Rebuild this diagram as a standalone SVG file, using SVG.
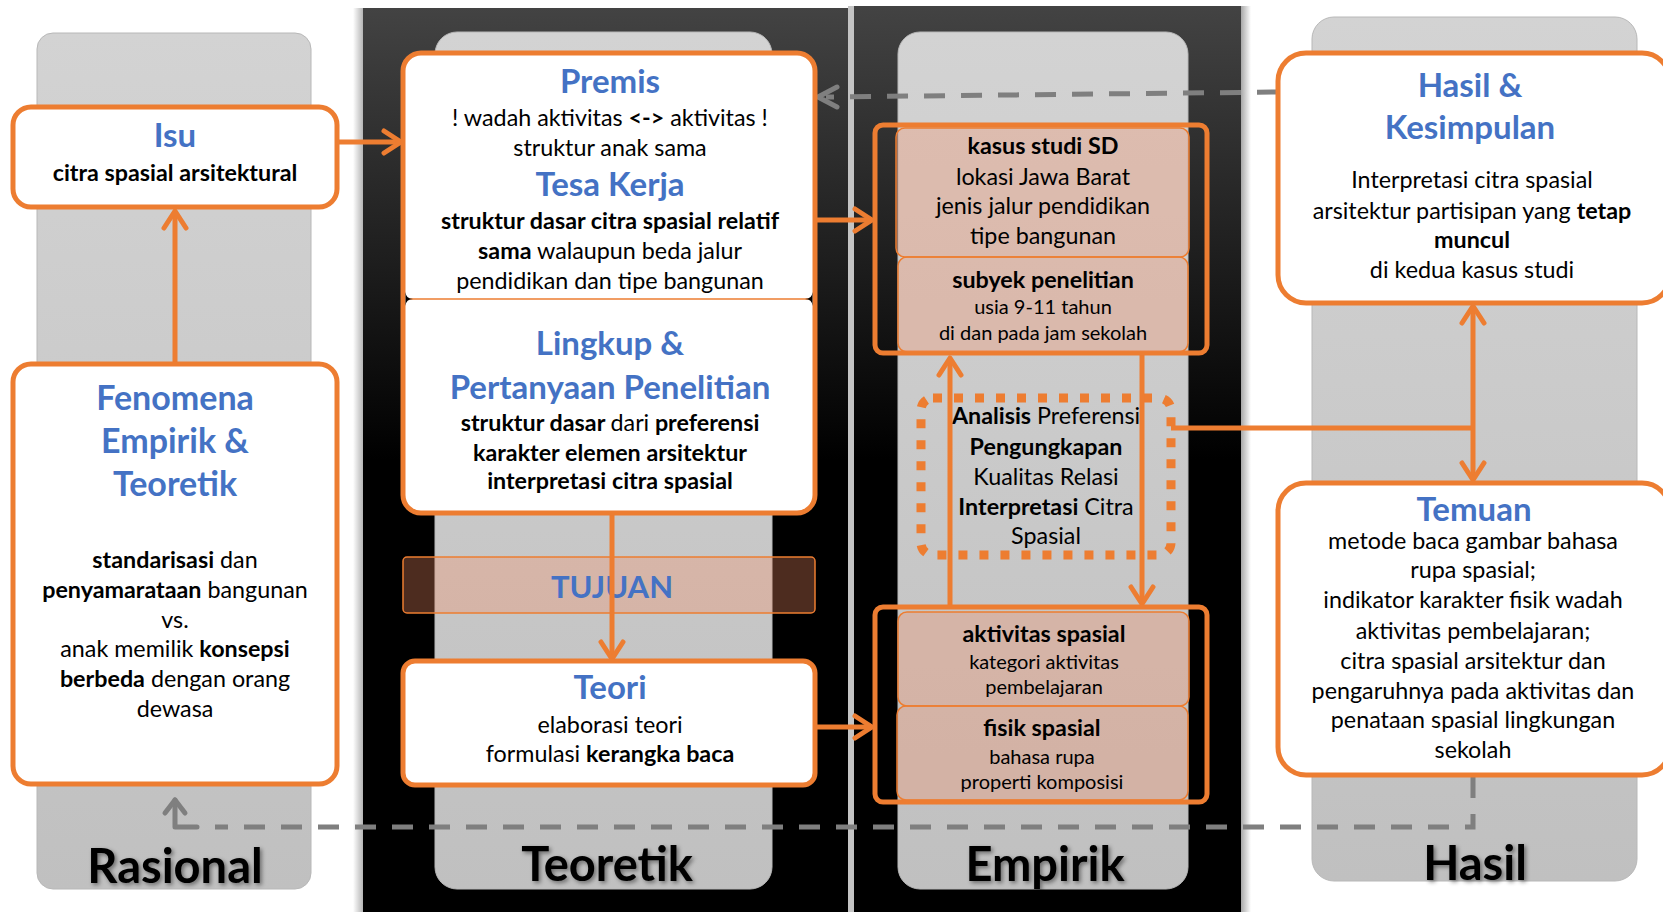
<svg xmlns="http://www.w3.org/2000/svg" width="1663" height="912" viewBox="0 0 1663 912">
<defs>
<linearGradient id="panelGrad" x1="0" y1="0" x2="0" y2="1">
<stop offset="0" stop-color="#434343"/>
<stop offset="0.5" stop-color="#000"/>
<stop offset="1" stop-color="#000"/>
</linearGradient>
<linearGradient id="colGrad" x1="0" y1="0" x2="0" y2="1">
<stop offset="0" stop-color="#d3d3d3"/>
<stop offset="1" stop-color="#c0c0c0"/>
</linearGradient>
<linearGradient id="shadowL" x1="0" y1="0" x2="1" y2="0">
<stop offset="0" stop-color="#fff"/>
<stop offset="1" stop-color="#b5b5b5"/>
</linearGradient>
<linearGradient id="shadowR" x1="0" y1="0" x2="1" y2="0">
<stop offset="0" stop-color="#a8a8a8"/>
<stop offset="1" stop-color="#fff"/>
</linearGradient>
<filter id="txtShadow" x="-10%" y="-20%" width="130%" height="160%">
<feDropShadow dx="2" dy="2" stdDeviation="2" flood-color="#000" flood-opacity="0.45"/>
</filter>
<marker id="ah" markerUnits="userSpaceOnUse" viewBox="-22 -14 26 28" refX="0" refY="0" markerWidth="26" markerHeight="28" orient="auto-start-reverse">
<path d="M-17,-11 L0,0 L-17,11" fill="none" stroke="#ED7D31" stroke-width="5" stroke-linecap="round" stroke-linejoin="round"/>
</marker>
<style>
.t{font-family:Lato,"Open Sans","Liberation Sans",sans-serif;text-anchor:middle;fill:#000}
.h{font-weight:700;fill:#4472C4;font-size:33px}
.b{font-size:23.3px}
.s{font-size:20px}
.bo{font-weight:700}
.lab{font-size:47px;font-weight:700;filter:url(#txtShadow)}
.box{fill:#fff;stroke:#ED7D31;stroke-width:5}
.col{fill:url(#colGrad);stroke:#b8b8b8;stroke-width:1}
.con{fill:none;stroke:#ED7D31;stroke-width:5}
.dash{fill:none;stroke:#7f7f7f;stroke-width:5;stroke-dasharray:21 16}
.gah{fill:none;stroke:#7f7f7f;stroke-width:5;stroke-linecap:round;stroke-linejoin:round}
.sal{fill:rgba(248,142,100,0.31);stroke:#ED7D31;stroke-width:1.5}
.grp{fill:none;stroke:#ED7D31;stroke-width:5}
.dot{fill:none;stroke:#ED7D31;stroke-width:9;stroke-dasharray:9 12}
</style>
</defs>
<rect width="1663" height="912" fill="#fff"/>
<g id="background">
<rect x="353" y="8" width="10" height="904" fill="url(#shadowL)"/>
<rect x="363" y="8" width="485" height="904" fill="url(#panelGrad)"/>
<rect x="848" y="6" width="6" height="906" fill="#c4c4c4"/>
<rect x="854" y="6" width="387" height="906" fill="url(#panelGrad)"/>
<rect x="1241" y="6" width="10" height="906" fill="url(#shadowR)"/>
<rect class="col" x="37" y="33" width="274" height="856" rx="16"/>
<rect class="col" x="435" y="32" width="337" height="857" rx="22"/>
<rect class="col" x="898" y="32" width="290" height="857" rx="22"/>
<rect class="col" x="1312" y="17" width="325" height="864" rx="22"/>
<text class="t lab" x="175" y="883">Rasional</text>
<text class="t lab" x="607" y="881">Teoretik</text>
<text class="t lab" x="1045" y="881">Empirik</text>
<text class="t lab" x="1475" y="880">Hasil</text>
</g>
<g id="tujuan">
<rect class="sal" x="403" y="557" width="412" height="56" rx="4"/>
<text class="t h" x="612" y="598" style="font-size:31px">TUJUAN</text>
</g>
<g id="analisis">
<rect class="dot" x="921" y="398" width="250" height="157" rx="12"/>
<text class="t b" x="1046" y="424"><tspan class="bo">Analisis</tspan> Preferensi</text>
<text class="t b bo" x="1046" y="455">Pengungkapan</text>
<text class="t b" x="1046" y="485">Kualitas Relasi</text>
<text class="t b" x="1046" y="515"><tspan class="bo">Interpretasi</tspan> Citra</text>
<text class="t b" x="1046" y="544">Spasial</text>
</g>
<g id="connectors">
<path class="con" d="M337,142 H401" marker-end="url(#ah)"/>
<path class="con" d="M175,363 V211" marker-end="url(#ah)"/>
<path class="con" d="M815,220 H872" marker-end="url(#ah)"/>
<path class="con" d="M612,513 V659" marker-end="url(#ah)"/>
<path class="con" d="M815,727 H872" marker-end="url(#ah)"/>
<path class="con" d="M950,607 V358" marker-end="url(#ah)"/>
<path class="con" d="M1142,355 V604" marker-end="url(#ah)"/>
<path class="con" d="M1171,428 H1473"/>
<path class="con" d="M1473,306 V480" marker-start="url(#ah)" marker-end="url(#ah)"/>
<path class="dash" d="M1278,92 L826,97"/>
<path class="gah" d="M837,87 L818,97 L837,107"/>
<path class="dash" d="M1473,777 V827 H215"/>
<path class="gah" d="M197,827 H175 V800"/>
<path class="gah" d="M165,813 L175,800 L185,813"/>
</g>
<g id="isu">
<rect class="box" x="13" y="107" width="324" height="100" rx="18"/>
<text class="t h" x="175" y="147">Isu</text>
<text class="t b bo" x="175" y="181">citra spasial arsitektural</text>
</g>
<g id="fenomena">
<rect class="box" x="13" y="364" width="324" height="420" rx="18"/>
<text class="t h" x="175" y="410" style="font-size:34px">Fenomena</text>
<text class="t h" x="175" y="453" style="font-size:34px">Empirik &amp;</text>
<text class="t h" x="175" y="496" style="font-size:34px">Teoretik</text>
<text class="t b" x="175" y="568"><tspan class="bo">standarisasi</tspan> dan</text>
<text class="t b" x="175" y="598"><tspan class="bo">penyamarataan</tspan> bangunan</text>
<text class="t b" x="175" y="628">vs.</text>
<text class="t b" x="175" y="657">anak memilik <tspan class="bo">konsepsi</tspan></text>
<text class="t b" x="175" y="687"><tspan class="bo">berbeda</tspan> dengan orang</text>
<text class="t b" x="175" y="717">dewasa</text>
</g>
<g id="premis">
<rect class="box" x="403" y="53" width="412" height="460" rx="18"/>
<path d="M406,299 H812" stroke="#ED7D31" stroke-width="1.5"/>
<path d="M405.5,292 Q406,299 413,299 Q406,299 405.5,306 Z" fill="#000"/>
<path d="M812.5,292 Q812,299 805,299 Q812,299 812.5,306 Z" fill="#000"/>
<text class="t h" x="610" y="93">Premis</text>
<text class="t b" x="610" y="126">! wadah aktivitas <tspan class="bo">&lt;-&gt;</tspan> aktivitas !</text>
<text class="t b" x="610" y="156">struktur anak sama</text>
<text class="t h" x="610" y="196">Tesa Kerja</text>
<text class="t b bo" x="610" y="229">struktur dasar citra spasial relatif</text>
<text class="t b" x="610" y="259"><tspan class="bo">sama</tspan> walaupun beda jalur</text>
<text class="t b" x="610" y="289">pendidikan dan tipe bangunan</text>
</g>
<g id="lingkup">
<text class="t h" x="610" y="355">Lingkup &amp;</text>
<text class="t h" x="610" y="399">Pertanyaan Penelitian</text>
<text class="t b bo" x="610" y="431">struktur dasar <tspan style="font-weight:400">dari</tspan> preferensi</text>
<text class="t b bo" x="610" y="461">karakter elemen arsitektur</text>
<text class="t b bo" x="610" y="489">interpretasi citra spasial</text>
</g>
<g id="teori">
<rect class="box" x="403" y="661" width="412" height="124" rx="12"/>
<text class="t h" x="610" y="699">Teori</text>
<text class="t b" x="610" y="733">elaborasi teori</text>
<text class="t b" x="610" y="762">formulasi <tspan class="bo">kerangka baca</tspan></text>
</g>
<g id="kasus">
<rect class="grp" x="875" y="125" width="332" height="228" rx="8"/>
<rect class="sal" x="896" y="128" width="293" height="129" rx="9"/>
<rect class="sal" x="898" y="257" width="290" height="95" rx="9"/>
<text class="t b bo" x="1043" y="154">kasus studi SD</text>
<text class="t b" x="1043" y="185">lokasi Jawa Barat</text>
<text class="t b" x="1043" y="214">jenis jalur pendidikan</text>
<text class="t b" x="1043" y="244">tipe bangunan</text>
<text class="t b bo" x="1043" y="288">subyek penelitian</text>
<text class="t s" x="1043" y="314">usia 9-11 tahun</text>
<text class="t s" x="1043" y="340">di dan pada jam sekolah</text>
</g>
<g id="aktivitas">
<rect class="grp" x="875" y="607" width="332" height="195" rx="8"/>
<rect class="sal" x="898" y="612" width="291" height="94" rx="9"/>
<rect class="sal" x="897" y="706" width="291" height="94" rx="9"/>
<text class="t b bo" x="1044" y="642">aktivitas spasial</text>
<text class="t s" x="1044" y="669">kategori aktivitas</text>
<text class="t s" x="1044" y="694">pembelajaran</text>
<text class="t b bo" x="1042" y="736">fisik spasial</text>
<text class="t s" x="1042" y="764">bahasa rupa</text>
<text class="t s" x="1042" y="789">properti komposisi</text>
</g>
<g id="hasil">
<rect class="box" x="1278" y="53" width="392" height="250" rx="28"/>
<text class="t h" x="1470" y="97">Hasil &amp;</text>
<text class="t h" x="1470" y="139">Kesimpulan</text>
<text class="t b" x="1472" y="188">Interpretasi citra spasial</text>
<text class="t b" x="1472" y="219">arsitektur partisipan yang <tspan class="bo">tetap</tspan></text>
<text class="t b bo" x="1472" y="248">muncul</text>
<text class="t b" x="1472" y="278">di kedua kasus studi</text>
</g>
<g id="temuan">
<rect class="box" x="1278" y="483" width="392" height="292" rx="28"/>
<text class="t h" x="1474" y="521">Temuan</text>
<text class="t b" x="1473" y="549">metode baca gambar bahasa</text>
<text class="t b" x="1473" y="578">rupa spasial;</text>
<text class="t b" x="1473" y="608">indikator karakter fisik wadah</text>
<text class="t b" x="1473" y="639">aktivitas pembelajaran;</text>
<text class="t b" x="1473" y="669">citra spasial arsitektur dan</text>
<text class="t b" x="1473" y="699">pengaruhnya pada aktivitas dan</text>
<text class="t b" x="1473" y="728">penataan spasial lingkungan</text>
<text class="t b" x="1473" y="758">sekolah</text>
</g>
</svg>
